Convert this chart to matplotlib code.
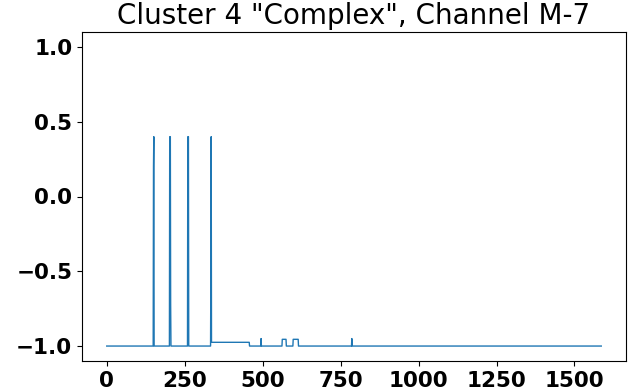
import numpy as np
import matplotlib
matplotlib.use("Agg")
import matplotlib.pyplot as plt

# Sinal do canal M-7 (cluster 4), amostra a amostra
n_samples = 1587
base_level = -1.0

# trechos constantes acima da linha de base: inicio, fim, nivel
block_start = [336, 563, 598]
block_end = [457, 575, 614]
block_level = [-0.975, -0.955, -0.955]

# picos isolados: indice e valor
peak_idx = [150, 151, 202, 203, 204, 205, 260, 261, 262, 334, 335, 495, 786]
peak_val = [0.2, 0.4, 0.4, 0.4, 0.4, -0.72, 0.4, 0.4, 0.4, -0.48, 0.4, -0.95, -0.95]

title = 'Cluster 4 "Complex", Channel M-7'
x_ticks = [0, 250, 500, 750, 1000, 1250, 1500]
y_ticks = [-1.0, -0.5, 0.0, 0.5, 1.0]

signal = np.full(n_samples, base_level)
for s, e, v in zip(block_start, block_end, block_level):
    signal[s:e + 1] = v
for i, v in zip(peak_idx, peak_val):
    signal[i] = v

fig = plt.figure(figsize=(6.28, 3.91), dpi=100)
ax = fig.add_axes([82 / 628, 30 / 391, 544 / 628, 329 / 391])
ax.plot(np.arange(n_samples), signal, color="#1f77b4", linewidth=1.0)

ax.set_ylim(-1.1, 1.1)
ax.set_xticks(x_ticks)
ax.set_yticks(y_ticks)
ax.set_title(title, fontsize=20)
for lbl in ax.get_xticklabels() + ax.get_yticklabels():
    lbl.set_fontweight("bold")
    lbl.set_fontsize(15.5)

fig.savefig("out.png", dpi=100)
